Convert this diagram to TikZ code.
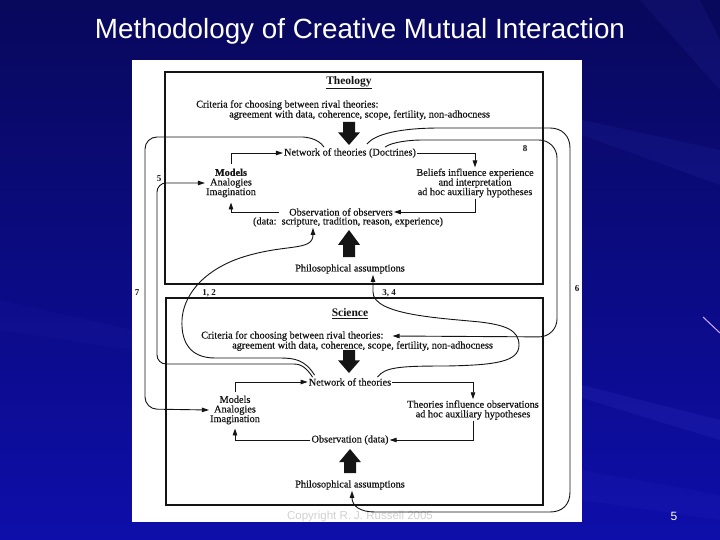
\documentclass[tikz,border=0pt]{standalone}
\usepackage{fontspec}
\setmainfont{Liberation Serif}
\newfontfamily\scanfont[FakeBold=0.4]{Liberation Serif}
\newfontfamily\titlefont{Liberation Sans}
\usetikzlibrary{arrows.meta}
\definecolor{bgtop}{RGB}{8,8,92}
\definecolor{bgbot}{RGB}{14,14,170}
\definecolor{ink}{RGB}{20,20,20}
\definecolor{streak}{RGB}{70,70,220}
\definecolor{lav}{RGB}{205,170,255}
\tikzset{
 txt/.style={inner sep=1pt, font=\scanfont\fontsize{10.3}{9.6}\selectfont, text=ink, align=center},
 lbl/.style={inner sep=0pt, font=\fontsize{9}{9}\selectfont\bfseries, text=ink},
 ttl/.style={inner sep=1pt, font=\fontsize{11.5}{12}\selectfont\bfseries, text=ink},
 arr/.style={draw=ink, line width=0.9pt, -{Triangle[length=7pt,width=4.5pt]}},
 panelbox/.style={draw=ink, line width=1.1pt},
}
\newcommand\fatarrow[3]{\fill[ink] ({#1-6},#2) -- ({#1+6},#2) -- ({#1+6},{#2+0.45*(#3-#2)}) -- ({#1+11},{#2+0.45*(#3-#2)}) -- (#1,#3) -- ({#1-11},{#2+0.45*(#3-#2)}) -- ({#1-6},{#2+0.45*(#3-#2)}) -- cycle;}
\begin{document}
\begin{tikzpicture}[x=1pt,y=-1pt]
\useasboundingbox (0,0) rectangle (720,540);
% background
\shade[top color=bgtop, bottom color=bgbot] (0,0) rectangle (720,540);
\fill[streak, opacity=0.10] (720,150) -- (582,120) -- (582,135) -- (720,185) -- cycle;
\fill[streak, opacity=0.14] (582,385) -- (720,420) -- (720,440) -- (582,398) -- cycle;
\fill[streak, opacity=0.08] (582,470) -- (720,495) -- (720,520) -- (582,500) -- cycle;
\fill[streak, opacity=0.10] (640,0) -- (700,0) -- (720,40) -- (720,90) -- cycle;
\fill[streak, opacity=0.06] (0,300) -- (132,330) -- (132,350) -- (0,330) -- cycle;
\draw[lav, line width=1pt] (703,317) -- (720,333);
% title and page number
\node[text=white, font=\titlefont\fontsize{27.8}{30}\selectfont] (title) at (360,31) {Methodology of Creative Mutual Interaction};
\node[text=white, font=\titlefont\fontsize{12}{12}\selectfont] (pnum) at (674,516) {5};
% panel
\fill[white] (132,60) rectangle (582,522);
\node[text=black!18, font=\titlefont\fontsize{11.5}{12}\selectfont] (copy) at (360,517) {Copyright R. J. Russell 2005};
% boxes
\draw[panelbox] (165,72) rectangle (543,284);
\draw[panelbox] (166,298) rectangle (543,505);
% ---------- Theology ----------
\node[ttl] (tTitle) at (349,83) {\underline{Theology}};
\node[txt, anchor=west] (tCrit1) at (195,105) {Criteria for choosing between rival theories:};
\node[txt, anchor=west] (tCrit2) at (228,115) {agreement with data, coherence, scope, fertility, non-adhocness};
\fatarrow{349}{122}{145}
\node[txt] (tNet) at (350,153) {Network of theories (Doctrines)};
\node[txt] (tModels) at (231,183) {\textbf{Models}\\Analogies\\Imagination};
\node[txt] (tBel) at (475,183) {Beliefs influence experience\\and interpretation\\ad hoc auxiliary hypotheses};
\node[txt] (tObs1) at (341,212) {Observation of observers};
\node[txt] (tObs2) at (348,222) {(data:\ \ scripture, tradition, reason, experience)};
\fatarrow{349}{257}{230}
\node[txt] (tPhil) at (350,269) {Philosophical assumptions};
\draw[arr, shorten <=4pt] (tModels.north) |- (tNet.west);
\draw[arr] (tNet.east) -| (tBel.north);
\draw[arr] (tBel.south) |- (tObs1.east);
\draw[arr, shorten >=4pt] ([xshift=-9pt]tObs1.west) -| (tModels.south);
% ---------- Science ----------
\node[ttl] (sTitle) at (350,314) {\underline{Science}};
\node[txt, anchor=west] (sCrit1) at (200,336) {Criteria for choosing between rival theories:};
\node[txt, anchor=west] (sCrit2) at (231,346) {agreement with data, coherence, scope, fertility, non-adhocness};
\fatarrow{349}{350}{373}
\node[txt] (sNet) at (350,382) {Network of theories};
\node[txt] (sModels) at (235,410) {Models\\Analogies\\Imagination};
\node[txt] (sThe) at (473,410) {Theories influence observations\\ad hoc auxiliary hypotheses};
\node[txt] (sObs) at (350,440) {Observation (data)};
\fatarrow{350}{473}{449}
\node[txt] (sPhil) at (350,485) {Philosophical assumptions};
\draw[arr, shorten <=3pt] (sModels.north) |- (sNet.west);
\draw[arr] (sNet.east) -| (sThe.north);
\draw[arr] (sThe.south) |- (sObs.east);
\draw[arr, shorten >=3pt] (sObs.west) -| (sModels.south);
% ---------- interaction curves ----------
% 7
\draw[arr, rounded corners=12pt] ([xshift=-26pt]tNet.north) .. controls (318,138) and (305,137) .. (290,137) -- (145,137) -- (145,409) -- (sModels.west);
% 5
\draw[arr, rounded corners=9pt] ([xshift=5pt]sNet.north west) .. controls (305,365) and (298,364) .. (285,364) -- (157,364) -- (157,183) -- (tModels.west);
% 1,2
\draw[arr] ([xshift=7pt,yshift=2pt]sNet.north west) .. controls (305,360) and (295,358) .. (280,358) -- (215,358) .. controls (190,358) and (181,342) .. (182,320) .. controls (183,298) and (200,272) .. (240,258) .. controls (285,243) and (313,252) .. ([xshift=-35pt]tObs2.south);
% 8
\draw[arr, rounded corners=18pt] ([xshift=35pt]tNet.north) .. controls (392,142) and (410,140) .. (440,140) -- (557,140) -- (557,337) -- ([xshift=8pt]sCrit1.east);
% 6
\draw[arr] ([xshift=17pt,yshift=3pt]tNet.north) .. controls (375,134) and (400,128) .. (440,128) -- (550,128) .. controls (562,128) and (570,136) .. (570,148) -- (570,492) .. controls (570,505) and (562,512) .. (550,512) -- (375,512) .. controls (360,512) and (352,506) .. ([xshift=2pt]sPhil.south);
% 3,4
\draw[arr] ([xshift=-15pt]sNet.north east) .. controls (385,367) and (400,366) .. (447,366) .. controls (495,365) and (519,362) .. (519,345) .. controls (519,330) and (505,325) .. (480,322) .. controls (440,318) and (373,315) .. (373,292) -- ([xshift=23pt]tPhil.south);
% labels
\node[lbl] (l5) at (159,179) {5};
\node[lbl] (l7) at (137,293) {7};
\node[lbl] (l12) at (209,293) {1, 2};
\node[lbl] (l34) at (389,293) {3, 4};
\node[lbl] (l6) at (577,289) {6};
\node[lbl] (l8) at (525,149) {8};
\end{tikzpicture}
\end{document}
